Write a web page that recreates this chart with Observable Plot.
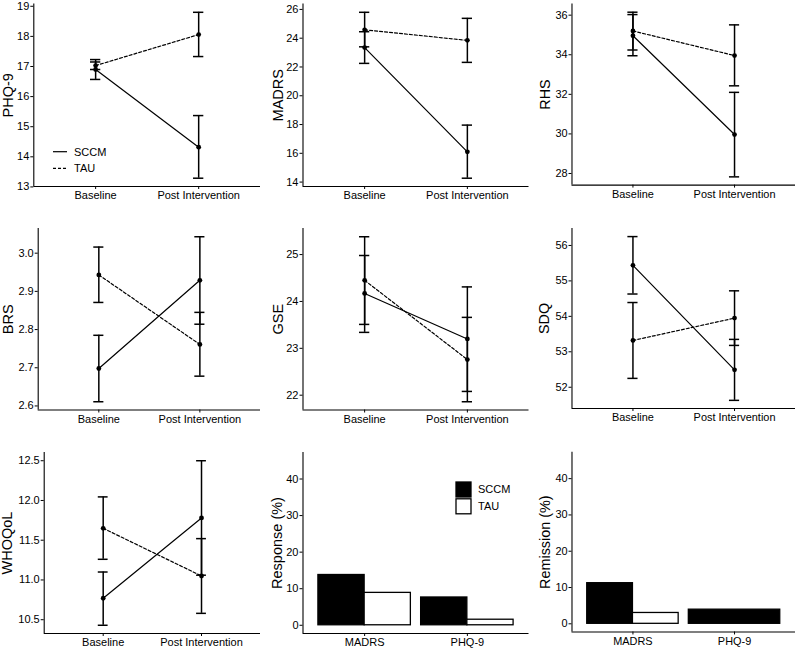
<!DOCTYPE html>
<html><head><meta charset="utf-8">
<script src="https://cdn.jsdelivr.net/npm/d3@7"></script>
<script src="https://cdn.jsdelivr.net/npm/@observablehq/plot@0.6"></script>
<style>
html,body{margin:0;padding:0;background:#fff;width:795px;height:649px;overflow:hidden;position:relative;font-family:"Liberation Sans",Arial,sans-serif;}
.panel{position:absolute;}
.panel svg{overflow:visible;}
.legend{position:absolute;}
</style></head><body>
<script>
// ---------- data ----------
const times = ["Baseline", "Post Intervention"];
const groups = ["SCCM", "TAU"];

const phqSCCM = [16.90, 14.32], phqSCCMlo = [16.57, 13.29], phqSCCMhi = [17.23, 15.37];
const phqTAU = [17.03, 18.06], phqTAUlo = [16.90, 17.33], phqTAUhi = [17.15, 18.80];
const phqTicks = [13, 14, 15, 16, 17, 18, 19];

const madrsSCCM = [23.35, 16.10], madrsSCCMlo = [22.25, 14.27], madrsSCCMhi = [24.45, 17.96];
const madrsTAU = [24.58, 23.85], madrsTAUlo = [23.40, 22.32], madrsTAUhi = [25.80, 25.38];
const madrsTicks = [14, 16, 18, 20, 22, 24, 26];

const rhsSCCM = [34.96, 29.97], rhsSCCMlo = [33.95, 27.83], rhsSCCMhi = [36.03, 32.10];
const rhsTAU = [35.20, 33.96], rhsTAUlo = [34.24, 32.43], rhsTAUhi = [36.15, 35.51];
const rhsTicks = [28, 30, 32, 34, 36];

const brsSCCM = [2.698, 2.929], brsSCCMlo = [2.611, 2.814], brsSCCMhi = [2.785, 3.043];
const brsTAU = [2.943, 2.761], brsTAUlo = [2.871, 2.678], brsTAUhi = [3.016, 2.845];
const brsTicks = [2.6, 2.7, 2.8, 2.9, 3.0];

const gseSCCM = [24.17, 23.20], gseSCCMlo = [23.34, 22.08], gseSCCMhi = [24.98, 24.31];
const gseTAU = [24.45, 22.76], gseTAUlo = [23.51, 21.86], gseTAUhi = [25.38, 23.66];
const gseTicks = [22, 23, 24, 25];

const sdqSCCM = [55.44, 52.49], sdqSCCMlo = [54.63, 51.63], sdqSCCMhi = [56.25, 53.35];
const sdqTAU = [53.32, 53.95], sdqTAUlo = [52.25, 53.18], sdqTAUhi = [54.39, 54.72];
const sdqTicks = [52, 53, 54, 55, 56];

const whoSCCM = [10.77, 11.78], whoSCCMlo = [10.43, 11.06], whoSCCMhi = [11.10, 12.50];
const whoTAU = [11.65, 11.05], whoTAUlo = [11.26, 10.58], whoTAUhi = [12.045, 11.52];
const whoTicks = [10.5, 11.0, 11.5, 12.0, 12.5];

const outcomeCats = ["MADRS", "PHQ-9"];
const responseSCCM = [13.75, 7.60], responseTAU = [8.86, 1.52];
const remissionSCCM = [11.20, 3.90], remissionTAU = [2.99, null];
const pctLimits = [0, 45];
const pctTicks = [0, 10, 20, 30, 40];

// ---------- layout ----------
const rowsL = [
  {top: 0, height: 216, mt: 3.5, mb: 30},
  {top: 216, height: 216, mt: 12, mb: 22.5},
  {top: 432, height: 217, mt: 20, mb: 16}
];
const colsL = [
  {left: 0, width: 265, mr: 5},
  {left: 265, width: 265, mr: 1.5},
  {left: 530, width: 267, mr: 0}
];
const fontFam = '"Liberation Sans", Arial, sans-serif';
const ink = "#000";
const xDomain = [0.4, 2.6];   // discrete positions 1..n with ggplot's 0.6 expansion
const capHalf = 0.05;        // error bar width 0.1 (data units)

function place(node, r, c) {
  const div = document.createElement("div");
  div.className = "panel";
  div.style.left = colsL[c].left + "px";
  div.style.top = rowsL[r].top + "px";
  div.appendChild(node);
  document.body.appendChild(div);
}

function axes(yDomain, yTicks, yFmt, label, ml, labelLeft, xLabels) {
  return [
    Plot.axisX({ticks: xLabels.map((_, i) => i + 1), tickFormat: i => xLabels[i - 1], tickSize: 3, tickPadding: 2, fontSize: 11, label: null, color: ink}),
    Plot.axisY({ticks: yTicks, tickFormat: yFmt, tickSize: 3, tickPadding: 1.5, fontSize: 11, label: null, color: ink}),
    Plot.ruleX([xDomain[0]], {stroke: ink, strokeWidth: 1.1}),
    Plot.ruleY([yDomain[0]], {stroke: ink, strokeWidth: 1.1}),
    Plot.text([label], {frameAnchor: "left", rotate: -90, fontSize: 14.5, fill: ink,
      dx: -(ml - labelLeft), lineAnchor: "top", textAnchor: "middle"})
  ];
}

function linePanel(p) {
  const R = rowsL[p.r], C = colsL[p.c];
  const data = times.flatMap((t, i) => [
    {time: t, pos: i + 1, group: "SCCM", mean: p.sccm[i], lo: p.sccmLo[i], hi: p.sccmHi[i]},
    {time: t, pos: i + 1, group: "TAU", mean: p.tau[i], lo: p.tauLo[i], hi: p.tauHi[i]}
  ]);
  const lo = d3.min(data, d => d.lo), hi = d3.max(data, d => d.hi), pad = (hi - lo) * 0.05;
  const yDomain = [lo - pad, hi + pad];
  const plot = Plot.plot({
    width: C.width, height: R.height,
    marginLeft: p.ml, marginRight: C.mr, marginTop: R.mt, marginBottom: R.mb,
    style: {fontFamily: fontFam, background: "transparent", color: ink, overflow: "visible"},
    x: {domain: xDomain},
    y: {domain: yDomain},
    marks: [
      ...axes(yDomain, p.ticks, p.fmt, p.name, p.ml, p.labelLeft, times),
      Plot.line(data.filter(d => d.group === "SCCM"), {x: "pos", y: "mean", stroke: ink, strokeWidth: 1.2}),
      Plot.line(data.filter(d => d.group === "TAU"), {x: "pos", y: "mean", stroke: ink, strokeWidth: 1.2, strokeDasharray: "3,2"}),
      Plot.ruleX(data, {x: "pos", y1: "lo", y2: "hi", stroke: ink, strokeWidth: 1.5}),
      Plot.ruleY(data, {y: "lo", x1: d => d.pos - capHalf, x2: d => d.pos + capHalf, stroke: ink, strokeWidth: 1.5}),
      Plot.ruleY(data, {y: "hi", x1: d => d.pos - capHalf, x2: d => d.pos + capHalf, stroke: ink, strokeWidth: 1.5}),
      Plot.dot(data, {x: "pos", y: "mean", r: 2.4, fill: ink, stroke: null})
    ]
  });
  place(plot, p.r, p.c);
}

function barPanel(p) {
  const R = rowsL[p.r], C = colsL[p.c];
  const vals = {SCCM: p.sccm, TAU: p.tau};
  const bars = [];
  outcomeCats.forEach((cat, ci) => {
    const present = groups.filter(g => vals[g][ci] != null);
    const w = 0.9 / present.length;
    present.forEach((g, j) => bars.push({cat, group: g, value: vals[g][ci],
      x1: ci + 1 - 0.45 + j * w, x2: ci + 1 - 0.45 + (j + 1) * w}));
  });
  const span = pctLimits[1] - pctLimits[0];
  const yDomain = [pctLimits[0] - 0.05 * span, pctLimits[1] + 0.05 * span];
  const plot = Plot.plot({
    width: C.width, height: R.height,
    marginLeft: p.ml, marginRight: C.mr, marginTop: R.mt, marginBottom: R.mb,
    style: {fontFamily: fontFam, background: "transparent", color: ink, overflow: "visible"},
    x: {domain: xDomain},
    y: {domain: yDomain},
    color: {domain: groups, range: ["black", "white"]},
    marks: [
      Plot.rect(bars, {x1: "x1", x2: "x2", y1: () => 0, y2: "value", fill: "group", stroke: "black", strokeWidth: 1.3}),
      ...axes(yDomain, pctTicks, d => String(d), p.name, p.ml, p.labelLeft, outcomeCats)
    ]
  });
  place(plot, p.r, p.c);
}

const f1 = d => d.toFixed(1);
const f0 = d => String(d);

linePanel({name: "PHQ-9", r: 0, c: 0, ml: 33.3, labelLeft: 2.5, ticks: phqTicks, fmt: f0,
  sccm: phqSCCM, sccmLo: phqSCCMlo, sccmHi: phqSCCMhi, tau: phqTAU, tauLo: phqTAUlo, tauHi: phqTAUhi});
linePanel({name: "MADRS", r: 0, c: 1, ml: 37.5, labelLeft: 7, ticks: madrsTicks, fmt: f0,
  sccm: madrsSCCM, sccmLo: madrsSCCMlo, sccmHi: madrsSCCMhi, tau: madrsTAU, tauLo: madrsTAUlo, tauHi: madrsTAUhi});
linePanel({name: "RHS", r: 0, c: 2, ml: 41.8, labelLeft: 9.3, ticks: rhsTicks, fmt: f0,
  sccm: rhsSCCM, sccmLo: rhsSCCMlo, sccmHi: rhsSCCMhi, tau: rhsTAU, tauLo: rhsTAUlo, tauHi: rhsTAUhi});
linePanel({name: "BRS", r: 1, c: 0, ml: 37.7, labelLeft: 2.7, ticks: brsTicks, fmt: f1,
  sccm: brsSCCM, sccmLo: brsSCCMlo, sccmHi: brsSCCMhi, tau: brsTAU, tauLo: brsTAUlo, tauHi: brsTAUhi});
linePanel({name: "GSE", r: 1, c: 1, ml: 37.5, labelLeft: 7, ticks: gseTicks, fmt: f0,
  sccm: gseSCCM, sccmLo: gseSCCMlo, sccmHi: gseSCCMhi, tau: gseTAU, tauLo: gseTAUlo, tauHi: gseTAUhi});
linePanel({name: "SDQ", r: 1, c: 2, ml: 41.8, labelLeft: 8, ticks: sdqTicks, fmt: f0,
  sccm: sdqSCCM, sccmLo: sdqSCCMlo, sccmHi: sdqSCCMhi, tau: sdqTAU, tauLo: sdqTAUlo, tauHi: sdqTAUhi});
linePanel({name: "WHOQoL", r: 2, c: 0, ml: 43.7, labelLeft: 1.7, ticks: whoTicks, fmt: f1,
  sccm: whoSCCM, sccmLo: whoSCCMlo, sccmHi: whoSCCMhi, tau: whoTAU, tauLo: whoTAUlo, tauHi: whoTAUhi});
barPanel({name: "Response (%)", r: 2, c: 1, ml: 37.5, labelLeft: 6.5, sccm: responseSCCM, tau: responseTAU});
barPanel({name: "Remission (%)", r: 2, c: 2, ml: 41.8, labelLeft: 9.3, sccm: remissionSCCM, tau: remissionTAU});

// ---------- legends ----------
const ns = "http://www.w3.org/2000/svg";
function legendSvg(left, top, w, h, build) {
  const svg = document.createElementNS(ns, "svg");
  svg.setAttribute("width", w); svg.setAttribute("height", h);
  svg.setAttribute("class", "legend");
  svg.style.left = left + "px"; svg.style.top = top + "px";
  svg.setAttribute("font-family", fontFam); svg.setAttribute("font-size", 11);
  build(svg);
  document.body.appendChild(svg);
}
function el(svg, tag, attrs, text) {
  const e = document.createElementNS(ns, tag);
  for (const k in attrs) e.setAttribute(k, attrs[k]);
  if (text) e.textContent = text;
  svg.appendChild(e);
}
legendSvg(50, 142, 70, 36, svg => {
  groups.forEach((g, i) => {
    const y = 9.7 + i * 16.6;
    el(svg, "line", {x1: 3, x2: 17, y1: y, y2: y, stroke: ink, "stroke-width": 1.2, "stroke-dasharray": i ? "3,2" : "none"});
    el(svg, "text", {x: 24, y: y, dy: "0.35em", fill: ink}, g);
  });
});
legendSvg(453, 480, 70, 36, svg => {
  groups.forEach((g, i) => {
    const y = 2 + i * 16.8;
    el(svg, "rect", {x: 3, y: y, width: 15, height: 15, fill: i ? "white" : "black", stroke: "black", "stroke-width": 1.3});
    el(svg, "text", {x: 25, y: y + 7.5, dy: "0.35em", fill: ink}, g);
  });
});
</script>
</body></html>
